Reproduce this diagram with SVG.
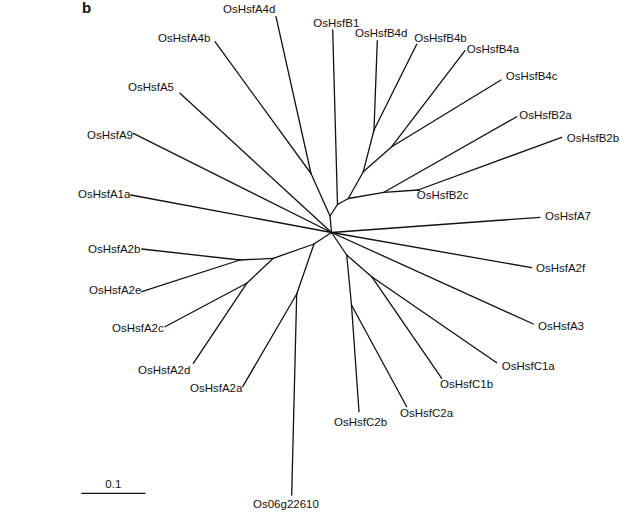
<svg xmlns="http://www.w3.org/2000/svg" width="637" height="520" viewBox="0 0 637 520">
<style>
.lbl{font-family:"Liberation Sans",Arial,sans-serif;font-size:11.5px;fill:#111}
.br{stroke:#111;stroke-width:1.3;fill:none;stroke-linecap:round;stroke-linejoin:round}
</style>
<rect width="637" height="520" fill="#fff"/>
<text x="82" y="13" style="font-family:'Liberation Sans',Arial,sans-serif;font-size:15px;font-weight:bold" fill="#111">b</text>
<g id="connectors" class="br">
  <!-- A4 clade and B clade via internal nodes -->
  <polyline points="276,16.7 311,173.5"/>
  <polyline points="215,41.7 311,173.5"/>
  <polyline points="311,173.5 330,216 331.5,232.5"/>
  <polyline points="330,216 337.5,204.5"/>
  <polyline points="332.7,30 337.5,204.5"/>
  <polyline points="337.5,204.5 348.3,198.5"/>
  <polyline points="348.3,198.5 363.3,171.7"/>
  <polyline points="363.3,171.7 374,130"/>
  <polyline points="377.3,40.7 374,130"/>
  <polyline points="416.7,44.3 374,130"/>
  <polyline points="363.3,171.7 391.7,146.7"/>
  <polyline points="465,50.7 391.7,146.7"/>
  <polyline points="501,80 391.7,146.7"/>
  <polyline points="348.3,198.5 384,192.3"/>
  <polyline points="516.7,116.7 384,192.3"/>
  <polyline points="384,192.3 418,190"/>
  <polyline points="561.7,137.3 418,190"/>
  <polyline points="418,190 419.5,190.3"/>
  <!-- left direct -->
  <polyline points="180,93.3 331.5,232.5"/>
  <polyline points="133.3,133.3 331.5,232.5"/>
  <polyline points="130.7,195 331.5,232.5"/>
  <!-- A2 clade -->
  <polyline points="141.7,249 240,260"/>
  <polyline points="141.7,291.7 240,260"/>
  <polyline points="240,260 273.3,258.3"/>
  <polyline points="165,326.7 246.7,283.3"/>
  <polyline points="193.3,363.3 246.7,283.3"/>
  <polyline points="246.7,283.3 273.3,258.3"/>
  <polyline points="273.3,258.3 314,244"/>
  <polyline points="242.7,386.7 296.7,294"/>
  <polyline points="291.7,495 296.7,294"/>
  <polyline points="296.7,294 314,244"/>
  <polyline points="314,244 331.5,232.5"/>
  <!-- right side -->
  <polyline points="540,217.3 331.5,232.5"/>
  <polyline points="531.7,267.7 331.5,232.5"/>
  <polyline points="533.3,324 331.5,232.5"/>
  <polyline points="331.5,232.5 346.7,255"/>
  <polyline points="346.7,255 371.7,276.7"/>
  <polyline points="496.7,362.7 371.7,276.7"/>
  <polyline points="441.7,378.3 371.7,276.7"/>
  <polyline points="346.7,255 351.5,305"/>
  <polyline points="359,411.7 351.5,305"/>
  <polyline points="406.7,406.7 351.5,305"/>
  <!-- scale bar -->
  <line x1="81.7" y1="493.3" x2="145" y2="493.3"/>
</g>
<g id="n-A4d"><text class="lbl" x="223" y="13">OsHsfA4d</text></g>
<g id="n-A4b"><text class="lbl" x="158" y="42">OsHsfA4b</text></g>
<g id="n-A5"><text class="lbl" x="128" y="91">OsHsfA5</text></g>
<g id="n-A9"><text class="lbl" x="87" y="139">OsHsfA9</text></g>
<g id="n-A1a"><text class="lbl" x="78" y="198">OsHsfA1a</text></g>
<g id="n-A2b"><text class="lbl" x="88" y="253">OsHsfA2b</text></g>
<g id="n-A2e"><text class="lbl" x="89" y="294">OsHsfA2e</text></g>
<g id="n-A2c"><text class="lbl" x="112" y="332">OsHsfA2c</text></g>
<g id="n-A2d"><text class="lbl" x="138" y="374">OsHsfA2d</text></g>
<g id="n-A2a"><text class="lbl" x="190" y="392">OsHsfA2a</text></g>
<g id="n-Os06"><text class="lbl" x="253" y="508">Os06g22610</text></g>
<g id="n-C2b"><text class="lbl" x="334" y="426">OsHsfC2b</text></g>
<g id="n-C2a"><text class="lbl" x="400" y="417">OsHsfC2a</text></g>
<g id="n-C1b"><text class="lbl" x="440" y="388">OsHsfC1b</text></g>
<g id="n-C1a"><text class="lbl" x="501.7" y="370">OsHsfC1a</text></g>
<g id="n-A3"><text class="lbl" x="538" y="330">OsHsfA3</text></g>
<g id="n-A2f"><text class="lbl" x="536" y="272">OsHsfA2f</text></g>
<g id="n-A7"><text class="lbl" x="545" y="220">OsHsfA7</text></g>
<g id="n-B2c"><text class="lbl" x="416.7" y="199">OsHsfB2c</text></g>
<g id="n-B2b"><text class="lbl" x="566.7" y="141.5">OsHsfB2b</text></g>
<g id="n-B2a"><text class="lbl" x="519.3" y="119">OsHsfB2a</text></g>
<g id="n-B4c"><text class="lbl" x="505.7" y="80">OsHsfB4c</text></g>
<g id="n-B4a"><text class="lbl" x="466.7" y="53">OsHsfB4a</text></g>
<g id="n-B4b"><text class="lbl" x="414.3" y="42">OsHsfB4b</text></g>
<g id="n-B4d"><text class="lbl" x="355" y="36.5">OsHsfB4d</text></g>
<g id="n-B1"><text class="lbl" x="313.3" y="27">OsHsfB1</text></g>
<g id="scale"><text class="lbl" x="113.3" y="488" text-anchor="middle">0.1</text></g>
</svg>
